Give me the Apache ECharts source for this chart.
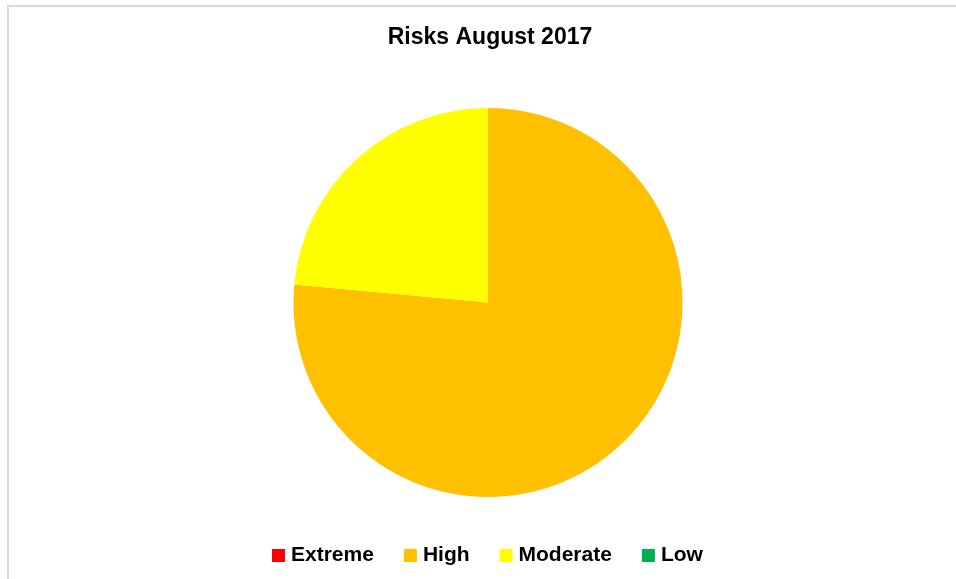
<!DOCTYPE html>
<html>
<head>
<meta charset="utf-8">
<script src="https://cdn.jsdelivr.net/npm/echarts@6/dist/echarts.min.js"></script>
<style>html,body{margin:0;padding:0;background:#fff;}#c{width:956px;height:579px;}</style>
</head>
<body>
<div id="c"></div>
<script>
var categories = ['Extreme', 'High', 'Moderate', 'Low'];
var values = [0, 13, 4, 0];
var colors = ['#FF0000', '#FFC000', '#FFFF00', '#00B050'];
var titleText = 'Risks August 2017';

var chart = echarts.init(document.getElementById('c'), null, {renderer: 'canvas'});
chart.setOption({
  animation: false,
  backgroundColor: '#ffffff',
  title: {
    text: titleText,
    left: 485,
    textAlign: 'center',
    top: 21,
    textStyle: {fontFamily: 'Liberation Sans, Arial', fontWeight: 'bold', fontSize: 23, color: '#000'}
  },
  legend: {
    data: categories,
    bottom: 8,
    left: 267,
    icon: 'rect',
    itemWidth: 13,
    itemHeight: 13,
    itemGap: 30,
    textStyle: {fontFamily: 'Liberation Sans, Arial', fontWeight: 'bold', fontSize: 21, color: '#000', padding: [0,0,0,1]}
  },
  graphic: [{
    type: 'rect',
    shape: {x: 8, y: 6, width: 1200, height: 1000},
    style: {fill: 'none', stroke: '#d9d9d9', lineWidth: 2},
    silent: true
  }],
  series: [{
    type: 'pie',
    center: [488, 302.5],
    radius: [0, 194.5],
    startAngle: 90,
    clockwise: true,
    label: {show: false},
    labelLine: {show: false},
    emphasis: {disabled: true},
    itemStyle: {borderWidth: 0},
    data: categories.map(function (c, i) {
      return {name: c, value: values[i], itemStyle: {color: colors[i]}};
    })
  }]
});
</script>
</body>
</html>
